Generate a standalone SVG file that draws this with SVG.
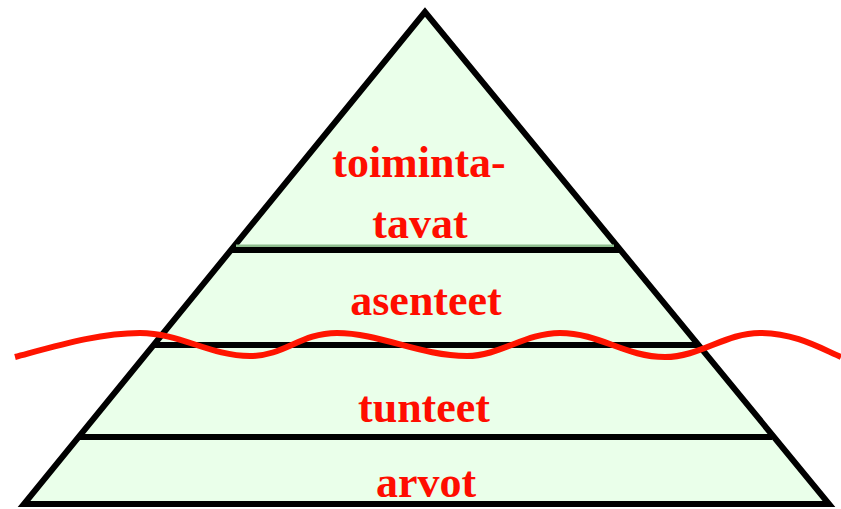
<svg xmlns="http://www.w3.org/2000/svg" width="841" height="509" viewBox="0 0 841 509">
  <style>
    .lbl { font-family: "Liberation Serif", "Times New Roman", serif; font-weight: bold; font-size: 44px; fill: #ff0d00; text-anchor: middle; }
    .bar { stroke: #000; stroke-width: 6; }
    .shade { stroke: #8dbd8d; stroke-width: 3; }
  </style>
  <rect width="841" height="509" fill="#ffffff"/>
  <g id="pyramid">
    <polygon points="425,12 24,504 829,504" fill="#eaffea" stroke="#000" stroke-width="6" stroke-linejoin="miter"/>
  </g>
  <g id="levels">
    <line class="shade" x1="236" y1="246" x2="614" y2="246"/>
    <line class="bar" x1="231" y1="250" x2="619" y2="250"/>
    <line class="bar" x1="154" y1="345" x2="697" y2="345"/>
    <line class="bar" x1="80" y1="437" x2="772" y2="437"/>
  </g>
  <g id="labels">
    <text class="lbl" x="419" y="177">toiminta-</text>
    <text class="lbl" x="420" y="238">tavat</text>
    <text class="lbl" x="426" y="315">asenteet</text>
    <text class="lbl" x="424" y="422">tunteet</text>
    <text class="lbl" x="426" y="497">arvot</text>
  </g>
  <g id="wave">
    <path d="M15,357 C60,345 100,333 140,333 C180,333 210,356 250,356 C285,356 300,333 337,333 C380,333 420,356 467,356 C500,356 525,333 560,333 C600,333 625,357 665,357 C700,357 725,333 760,333 C795,333 820,348 841,357" fill="none" stroke="#ff1400" stroke-width="6"/>
  </g>
</svg>
